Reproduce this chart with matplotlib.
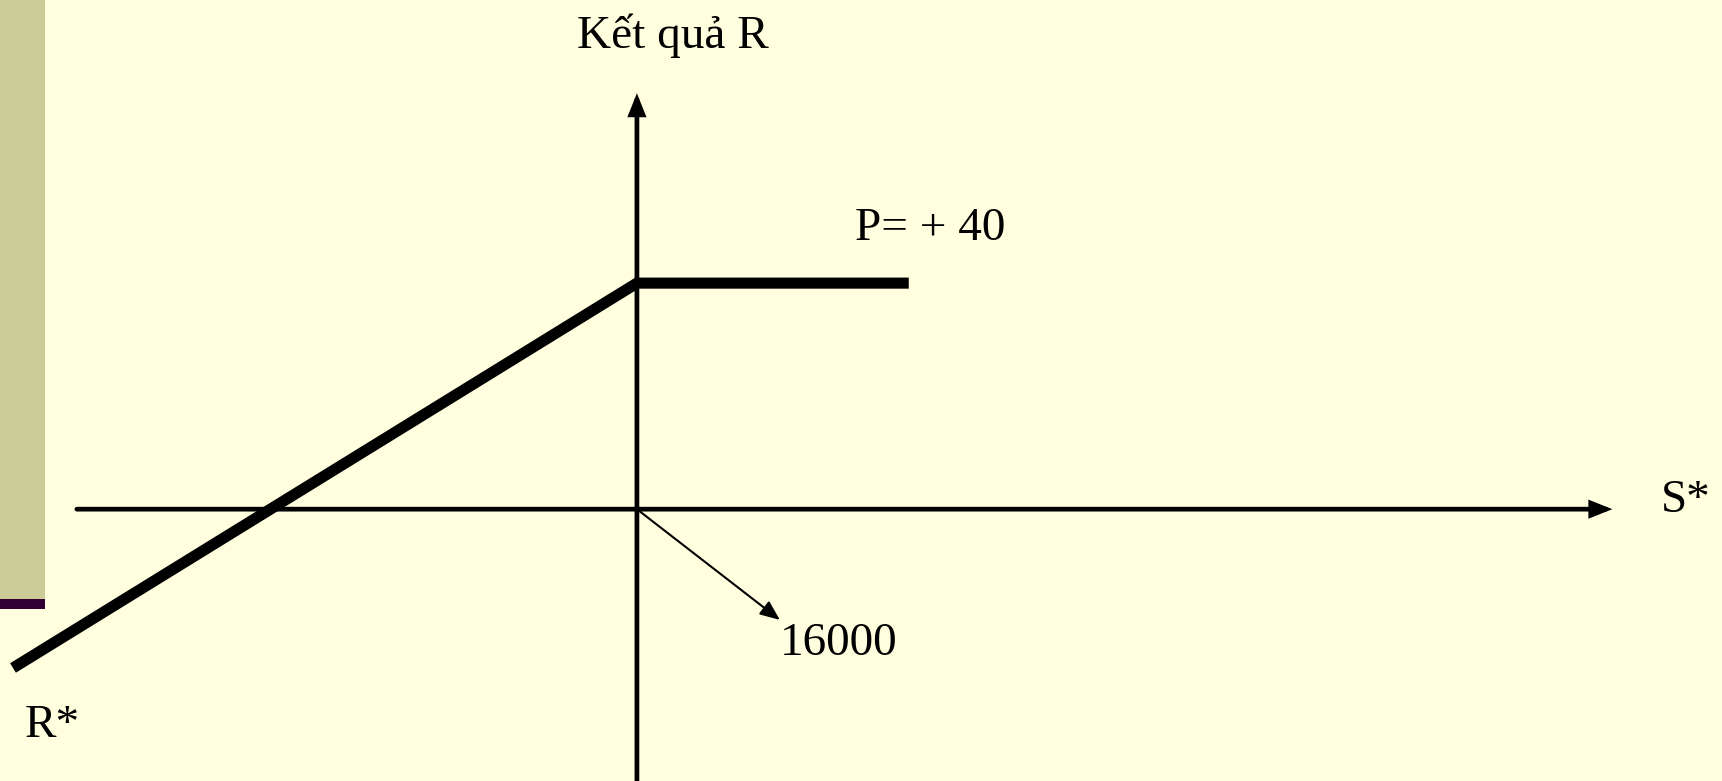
import matplotlib.pyplot as plt
from matplotlib.patches import Rectangle

# payoff diagram, units: 1 unit of S* / R drawn at the same scale
S_PAYOFF = [-110.4, 0.0, 48.1]
R_PAYOFF = [-28.1, 40.0, 40.0]

S_AXIS = (-99.1, 172.6)      # horizontal axis start, arrow tip
R_AXIS = (-50.0, 73.6)       # vertical axis bottom, arrow tip
STRIKE_TIP = (25.3, -19.6)   # small arrow pointing at "16000"

XLIM = (-112.7, 192.0)
YLIM = (-48.1, 90.1)

BG = "#FFFFE0"
BAR = "#CCCC99"
BAR_EDGE = "#330033"

plt.rcParams["font.family"] = ["Liberation Serif", "DejaVu Serif"]

fig = plt.figure(figsize=(17.22, 7.81), dpi=100, facecolor=BG)
ax = fig.add_axes([0, 0, 1, 1])
ax.set_facecolor(BG)
ax.set_xlim(*XLIM)
ax.set_ylim(*YLIM)
ax.axis("off")

# slide decoration on the left
fig.add_artist(Rectangle((0, 1 - 599 / 781), 45 / 1722, 599 / 781,
                         transform=fig.transFigure, facecolor=BAR, edgecolor="none"))
fig.add_artist(Rectangle((0, 1 - 609 / 781), 45 / 1722, 10 / 781,
                         transform=fig.transFigure, facecolor=BAR_EDGE, edgecolor="none"))

axis_arrow = dict(arrowstyle="-|>,head_length=0.55,head_width=0.22", lw=3.4,
                  color="black", mutation_scale=20, shrinkA=0, shrinkB=0,
                  joinstyle="miter")
ax.annotate("", xy=(S_AXIS[1], 0), xytext=(S_AXIS[0], 0), arrowprops=axis_arrow)
ax.annotate("", xy=(0, R_AXIS[1]), xytext=(0, R_AXIS[0]), arrowprops=axis_arrow)

ax.plot(S_PAYOFF, R_PAYOFF, color="black", lw=8, solid_capstyle="butt",
        solid_joinstyle="miter", zorder=3)

ax.annotate("", xy=STRIKE_TIP, xytext=(0, 0),
            arrowprops=dict(arrowstyle="-|>,head_length=0.6,head_width=0.25",
                            lw=1.5, color="black", mutation_scale=20,
                            shrinkA=0, shrinkB=0))

fs = 34
ax.text(-10.6, 81.6, "Kết quả R", fontsize=fs, ha="left", va="baseline")
ax.text(38.6, 47.6, "P= + 40", fontsize=fs, ha="left", va="baseline")
ax.text(181.1, -0.5, "S*", fontsize=fs, ha="left", va="baseline")
ax.text(-108.3, -40.4, "R*", fontsize=fs, ha="left", va="baseline")
ax.text(25.3, -25.8, "16000", fontsize=fs, ha="left", va="baseline")

fig.savefig("out.png", dpi=100, facecolor=BG)
